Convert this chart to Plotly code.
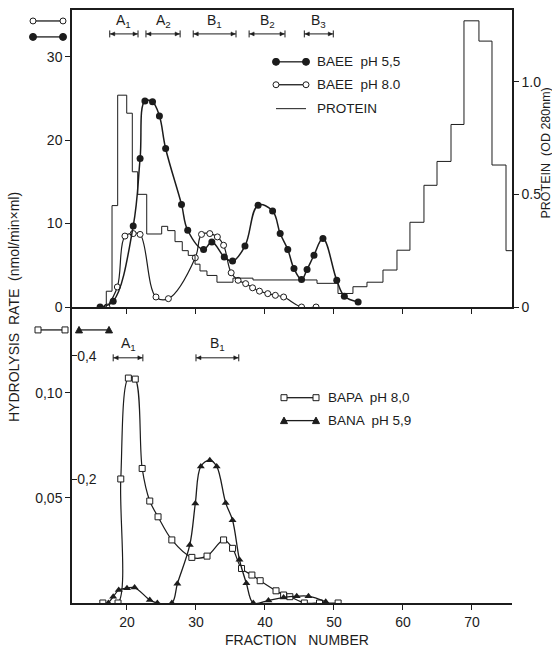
import plotly.graph_objects as go

# ---------------- data ----------------
fraction_ticks = [20, 30, 40, 50, 60, 70]
fraction_ticktext = ["20", "30", "40", "50", "60", "70"]

baee55_x = [16.1, 18.0, 20.9, 21.9, 22.6, 23.7, 24.7, 25.6, 27.9, 28.8, 31.1, 32.3, 34.1, 35.3,
            37.1, 39.0, 41.1, 42.2, 43.3, 44.2, 45.3, 46.1, 47.1, 48.4, 50.4, 51.5, 53.5]
baee55_y = [0, 0.7, 9.7, 17.8, 24.7, 24.6, 22.9, 19.0, 12.3, 9.2, 6.9, 7.8, 6.0, 5.5,
            7.3, 12.2, 11.5, 8.8, 6.9, 4.6, 3.3, 4.5, 6.2, 8.2, 3.2, 1.3, 0.6]

baee80_x = [17.1, 18.6, 19.7, 20.9, 21.9, 24.2, 26.0, 29.9, 30.8, 32.0, 33.1, 34.0, 35.1, 36.1,
            37.2, 38.2, 39.2, 40.4, 41.5, 42.7, 45.3, 47.4]
baee80_y = [0, 2.4, 8.5, 8.8, 8.7, 1.2, 1.0, 5.9, 8.7, 8.8, 8.4, 7.4, 4.1, 3.2,
            2.8, 2.3, 1.9, 1.6, 1.4, 1.2, 0, 0]

protein_edges = [17.0, 17.83, 18.65, 19.96, 20.77, 21.55, 22.86, 25.03, 25.9, 26.96, 28.01, 28.88,
                 29.86, 30.58, 31.59, 33.04, 35.36, 38.26, 47.54, 50.58, 52.75, 54.78, 57.1, 59.13,
                 61.01, 63.04, 64.93, 66.96, 68.84, 71.01, 72.9, 74.93]
protein_od = [0.07, 0.45, 0.94, 0.86, 0.60, 0.50, 0.324, 0.358, 0.339, 0.29, 0.25, 0.229,
              0.19, 0.16, 0.14, 0.11, 0.128, 0.12, 0.105, 0.06, 0.09, 0.11, 0.164, 0.252,
              0.376, 0.54, 0.646, 0.81, 1.27, 1.18, 0.63, 0.25]
protein_end = 75.8

bapa_x = [16.5, 18.7, 19.1, 20.2, 21.2, 22.2, 23.3, 24.5, 26.5, 29.4, 31.6, 34.0, 35.3, 36.6,
          38.1, 39.3, 41.6, 42.7, 43.6, 45.7, 47.9, 50.6]
bapa_y = [0, 0, 0.059, 0.107, 0.1065, 0.064, 0.0485, 0.041, 0.030, 0.0217, 0.0223, 0.030, 0.026, 0.0164,
          0.0133, 0.0106, 0.0058, 0.0038, 0.003, 0, 0, 0]

bana_x = [17.3, 18.0, 18.8, 20.0, 21.1, 23.3, 24.4, 26.5, 27.3, 29.1, 29.9, 30.7, 32.0, 33.0, 34.3,
          35.3, 36.3, 37.3, 38.3, 40.5, 42.7, 44.6, 46.3, 48.8]
bana_y = [0, 0.010, 0.021, 0.024, 0.025, 0.005, 0, 0, 0.031, 0.094, 0.161, 0.221, 0.231, 0.221, 0.162,
          0.134, 0.070, 0.032, 0, 0.004, 0.009, 0.011, 0.011, 0.002]

top_pool_names = ["A<sub>1</sub>", "A<sub>2</sub>", "B<sub>1</sub>", "B<sub>2</sub>", "B<sub>3</sub>"]
top_pool_start = [17.5, 22.75, 29.6, 37.7, 45.7]
top_pool_end = [21.6, 27.7, 35.8, 42.9, 49.9]
bot_pool_names = ["A<sub>1</sub>", "B<sub>1</sub>"]
bot_pool_start = [18.0, 30.0]
bot_pool_end = [22.3, 36.2]

rate_ticks_top = [0, 10, 20, 30]
rate_ticktext_top = ["0", "10", "20", "30"]
od_ticks = [0, 0.5, 1.0]
od_ticktext = ["0", "0.5", "1.0"]
bapa_ticks = [0.05, 0.10]
bapa_ticktext = ["0,05", "0,10"]
bana_ticks = [0.2, 0.4]
bana_ticktext = ["0,2", "0,4"]

# ---------------- layout geometry ----------------
W_FIG, H_FIG = 552, 649
L, R, T, B = 72, 512, 8, 603
PW, PH = R - L, B - T
SPLIT = 306
DS = (B - SPLIT) / PH
XR = [12.03, 75.8]
INK = "#1c1c1c"
FONT = "Liberation Sans"


def PX(px):
    return (px - L) / PW


def PY(py):
    return (B - py) / PH


def F2PX(f):
    return L + (f - XR[0]) / (XR[1] - XR[0]) * PW


fig = go.Figure()

fig.add_trace(go.Scatter(x=[protein_edges[0]] + protein_edges + [protein_end],
                         y=[0] + protein_od + [protein_od[-1]],
                         mode="lines", line=dict(color=INK, width=1, shape="hv"),
                         xaxis="x", yaxis="y2", showlegend=False))
fig.add_trace(go.Scatter(x=baee80_x, y=baee80_y, mode="lines+markers",
                         line=dict(color=INK, width=1.2, shape="spline", smoothing=1.1),
                         marker=dict(symbol="circle", size=6, color="white", line=dict(color=INK, width=1)),
                         xaxis="x", yaxis="y", showlegend=False))
fig.add_trace(go.Scatter(x=baee55_x, y=baee55_y, mode="lines+markers",
                         line=dict(color=INK, width=1.5, shape="spline", smoothing=1.1),
                         marker=dict(symbol="circle", size=7, color=INK),
                         xaxis="x", yaxis="y", showlegend=False))
fig.add_trace(go.Scatter(x=bapa_x, y=bapa_y, mode="lines+markers",
                         line=dict(color=INK, width=1.2, shape="spline", smoothing=0.9),
                         marker=dict(symbol="square", size=6, color="white", line=dict(color=INK, width=1)),
                         xaxis="x2", yaxis="y3", showlegend=False))
fig.add_trace(go.Scatter(x=bana_x, y=bana_y, mode="lines+markers",
                         line=dict(color=INK, width=1.3, shape="spline", smoothing=1.0),
                         marker=dict(symbol="triangle-up", size=7, color=INK),
                         xaxis="x2", yaxis="y4", showlegend=False))

shapes = []
annotations = []


def sym(kind, cx, cy):
    if kind in ("filled", "open"):
        r = 3.5 if kind == "filled" else 3
        shapes.append(dict(type="circle", xref="paper", yref="paper",
                           x0=PX(cx - r), x1=PX(cx + r), y0=PY(cy + r), y1=PY(cy - r),
                           fillcolor=INK if kind == "filled" else "white",
                           line=dict(color=INK, width=1)))
    elif kind == "square":
        r = 3
        shapes.append(dict(type="rect", xref="paper", yref="paper",
                           x0=PX(cx - r), x1=PX(cx + r), y0=PY(cy + r), y1=PY(cy - r),
                           fillcolor="white", line=dict(color=INK, width=1)))
    elif kind == "triangle":
        p = "M {:.5f},{:.5f} L {:.5f},{:.5f} L {:.5f},{:.5f} Z".format(
            PX(cx - 3.5), PY(cy + 3), PX(cx + 3.5), PY(cy + 3), PX(cx), PY(cy - 3.5))
        shapes.append(dict(type="path", xref="paper", yref="paper", path=p,
                           fillcolor=INK, line=dict(color=INK, width=1)))


def sample(kind, x0, x1, cy, lw=1.3):
    shapes.append(dict(type="line", xref="paper", yref="paper",
                       x0=PX(x0), x1=PX(x1), y0=PY(cy), y1=PY(cy),
                       line=dict(color=INK, width=lw)))
    if kind:
        sym(kind, x0, cy)
        sym(kind, x1, cy)


def label(text, x, y, size=13, xanchor="left", angle=0):
    annotations.append(dict(text=text, x=PX(x), y=PY(y), xref="paper", yref="paper",
                            showarrow=False, xanchor=xanchor, yanchor="middle", textangle=angle,
                            font=dict(family=FONT, size=size, color=INK)))


# legends
top_leg = [("filled", "BAEE  pH 5,5", 60), ("open", "BAEE  pH 8.0", 83), (None, "PROTEIN", 107)]
for kind, txt, cy in top_leg:
    sample(kind, 276, 306, cy, lw=1.0 if kind is None else 1.3)
    label(txt, 315, cy, size=13.5)
bot_leg = [("square", "BAPA  pH 8,0", 397), ("triangle", "BANA  pH 5,9", 420)]
for kind, txt, cy in bot_leg:
    sample(kind, 284, 316, cy)
    label(txt, 326, cy, size=13.5)

# axis identification marks on the left
sample("open", 33, 63, 19)
sample("filled", 33, 63, 35)
sample("square", 38, 65, 329)
sample("triangle", 79, 109, 329)


# pooled-fraction bars
def pool(names, starts, ends, ybar, ylab):
    for n, a, b in zip(names, starts, ends):
        xa, xb = F2PX(a), F2PX(b)
        shapes.append(dict(type="line", xref="paper", yref="paper", x0=PX(xa), x1=PX(xb),
                           y0=PY(ybar), y1=PY(ybar), line=dict(color=INK, width=1)))
        for xe, d in ((xa, 1), (xb, -1)):
            shapes.append(dict(type="line", xref="paper", yref="paper", x0=PX(xe), x1=PX(xe),
                               y0=PY(ybar - 3.5), y1=PY(ybar + 3.5), line=dict(color=INK, width=1)))
            p = "M {:.5f},{:.5f} L {:.5f},{:.5f} L {:.5f},{:.5f} Z".format(
                PX(xe + d * 1), PY(ybar), PX(xe + d * 5), PY(ybar - 2), PX(xe + d * 5), PY(ybar + 2))
            shapes.append(dict(type="path", xref="paper", yref="paper", path=p,
                               fillcolor=INK, line=dict(color=INK, width=0.5)))
        label(n, (xa + xb) / 2, ylab, size=14, xanchor="center")


pool(top_pool_names, top_pool_start, top_pool_end, 32, 19)
pool(bot_pool_names, bot_pool_start, bot_pool_end, 357, 343)

# axis titles
label("HYDROLYSIS  RATE  (nmol/min×ml)", 14, 306, size=14, xanchor="center", angle=-90)
label("PROTEIN  (OD 280nm)", 546, 152, size=12.5, xanchor="center", angle=-90)
label("FRACTION   NUMBER", 297, 640, size=14, xanchor="center")

ax_common = dict(showline=True, linecolor=INK, linewidth=1.5, showgrid=False, zeroline=False,
                 ticks="outside", ticklen=5, tickwidth=1.2, tickcolor=INK,
                 tickfont=dict(family=FONT, size=14, color=INK))

fig.update_layout(
    width=W_FIG, height=H_FIG, autosize=False,
    margin=dict(l=L, r=W_FIG - R, t=T, b=H_FIG - B, pad=0),
    paper_bgcolor="white", plot_bgcolor="white",
    showlegend=False,
    xaxis=dict(domain=[0, 1], anchor="y", range=XR, tickvals=fraction_ticks,
               showticklabels=False, mirror=True, **ax_common),
    yaxis=dict(domain=[DS, 1], anchor="x", range=[0, 35.6], tickvals=rate_ticks_top,
               ticktext=rate_ticktext_top, **ax_common),
    yaxis2=dict(overlaying="y", side="right", anchor="x", range=[0, 1.318], tickvals=od_ticks,
                ticktext=od_ticktext, **ax_common),
    xaxis2=dict(domain=[0, 1], anchor="y3", range=XR, tickvals=fraction_ticks,
                ticktext=fraction_ticktext, **ax_common),
    yaxis3=dict(domain=[0, DS], anchor="x2", range=[0, 0.1408], tickvals=bapa_ticks,
                ticktext=bapa_ticktext, **ax_common),
    yaxis4=dict(overlaying="y3", side="left", anchor="x2", range=[0, 0.479], tickvals=bana_ticks,
                ticktext=bana_ticktext, showline=False, showgrid=False, zeroline=False,
                ticks="inside", ticklen=5, tickwidth=1.2, tickcolor=INK, ticklabelposition="inside",
                tickfont=dict(family=FONT, size=14, color=INK)),
    shapes=shapes, annotations=annotations,
)

fig.write_html("out.html")
